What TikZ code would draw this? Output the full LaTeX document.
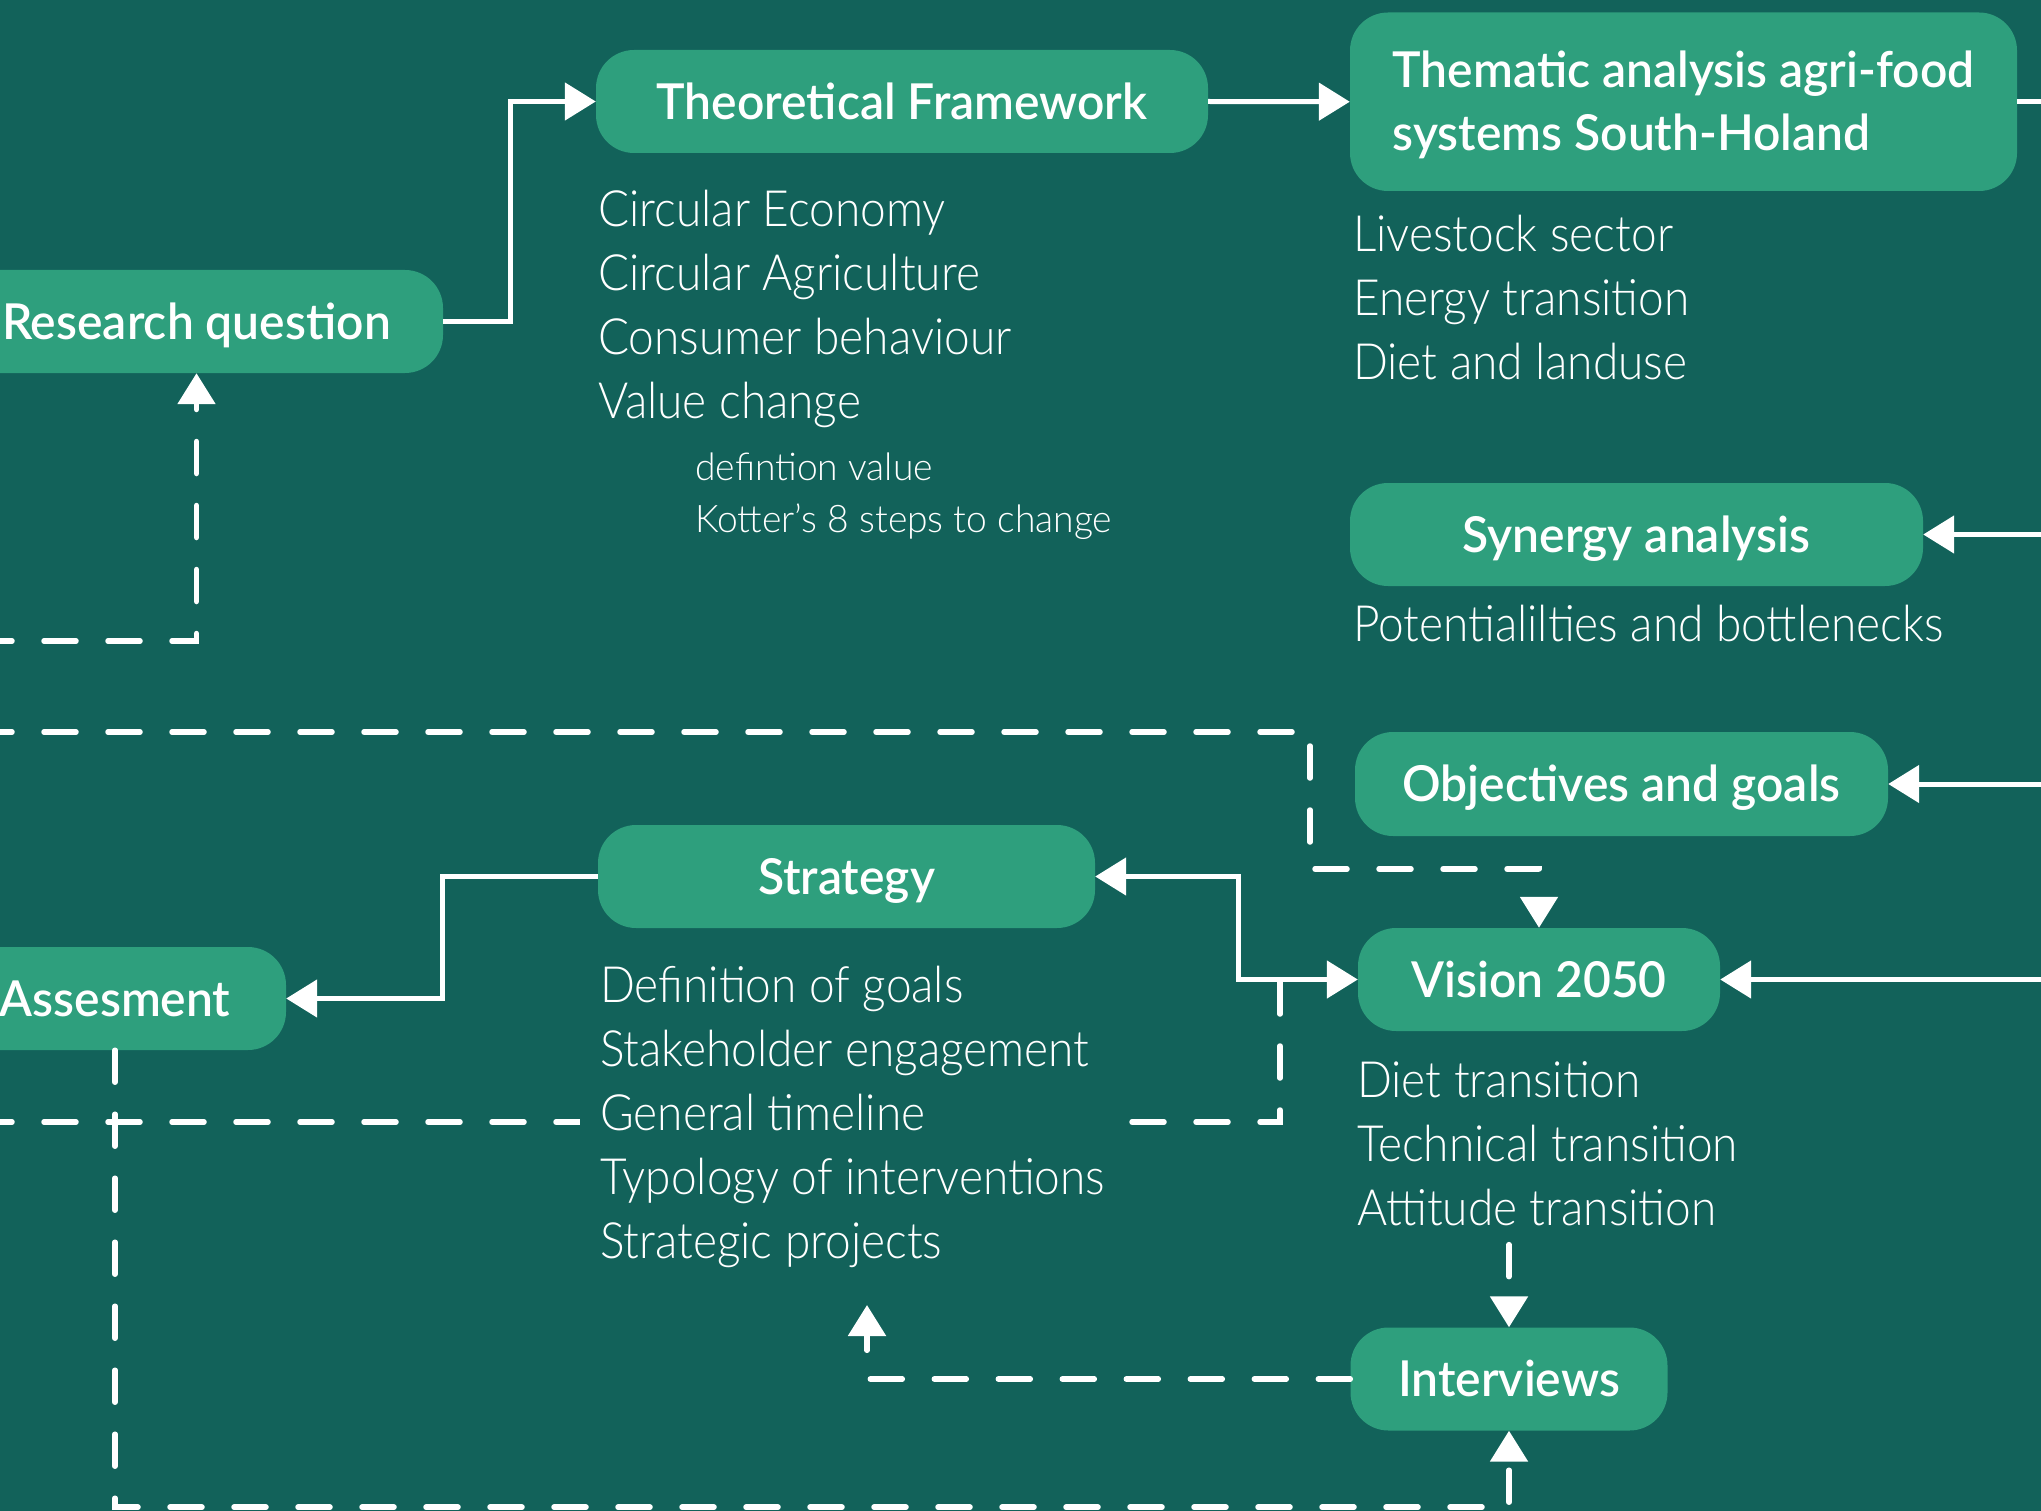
\documentclass[tikz,border=0pt]{standalone}
\usepackage{fontspec}
\usetikzlibrary{arrows.meta}

% Light face for the item lists, heavier face for the stage titles
\IfFontExistsTF{Lato Light}
  {\newfontfamily\itemfont{Lato Light}[FakeStretch=0.92]
   \newfontfamily\subitemfont{Lato Light}[FakeStretch=0.98]}
  {\newfontfamily\itemfont{Lato}[FakeStretch=0.92]
   \newfontfamily\subitemfont{Lato}[FakeStretch=0.98]}
\IfFontExistsTF{Lato Semibold}
  {\newfontfamily\headfont{Lato Semibold}[FakeStretch=0.97]}
  {\newfontfamily\headfontbase{Lato}[FakeStretch=0.97]\newcommand\headfont{\headfontbase\bfseries}}

\definecolor{bgteal}{HTML}{12625A}
\definecolor{boxgreen}{HTML}{2E9F7D}

\tikzset{
  flowtip/.tip={Triangle[length=31pt,width=37pt]},
  stagebox/.style={draw=none, fill=boxgreen, rounded corners=38pt, text=white,
    font=\headfont\fontsize{49.5}{63}\selectfont, inner sep=0pt},
  stage/.style={stagebox, text height=35.5pt, text depth=0pt},
  itemlist/.style={text=white, font=\itemfont\fontsize{50}{64}\selectfont,
    align=left, anchor=north west, inner sep=0pt},
  sublist/.style={itemlist, font=\subitemfont\fontsize{38}{52}\selectfont},
  link/.style={draw=white, line width=5pt},
  dashlink/.style={draw=white, line width=5.5pt, line cap=round, dash pattern=on 32pt off 32pt},
}

\begin{document}
\begin{tikzpicture}[x=1pt, y=-1pt]
\useasboundingbox (0,0) rectangle (2041,1511);
\fill[bgteal] (0,0) rectangle (2041,1511);
\clip (0,0) rectangle (2041,1511);

% loose ends of connectors that leave the sheet
\coordinate (wRQ)  at (-20,641);
\coordinate (wVis) at (-20,732);
\coordinate (wStr) at (-20,1122);
\coordinate (jn)   at (1280,981);
\coordinate (eThem) at (2060,101.75);
\coordinate (eSyn) at (2060,534.5);
\coordinate (eObj) at (2060,784);
\coordinate (eVis) at (2060,979.5);
\coordinate (sIn)  at (867,1305);

% dashed feedback line running behind the strategy list
\draw[dashlink] (wStr) -| (jn);

% stages
\node[stage, minimum width=493pt, minimum height=103pt] (rq) at (196.5,321.5) {Research question};
\node[stage, minimum width=612pt, minimum height=103pt] (tf) at (902,101.5) {Theoretical Framework};
\node[stagebox, align=left, minimum width=667pt, minimum height=178.5pt] (them) at (1683.5,101.75)
  {\rule{0pt}{43pt}Thematic analysis agri-food\\systems South-Holand};
\node[stage, minimum width=573pt, minimum height=103pt] (syn) at (1636.5,534.5) {Synergy analysis};
\node[stage, minimum width=533pt, minimum height=104pt] (obj) at (1621.5,784) {Objectives and goals};
\node[stage, minimum width=497pt, minimum height=103pt] (strat) at (846.5,876.5) {Strategy};
\node[stage, minimum width=362pt, minimum height=103pt] (vis) at (1539,979.5) {Vision 2050};
\node[stage, minimum width=317pt, minimum height=103pt] (intv) at (1509,1379) {Interviews};
\node[stage, minimum width=342pt, minimum height=103pt] (ass) at (115,998.5) {Assesment};

% item lists
\node[itemlist] (tflist) at (598,181.2)
  {\strut Circular Economy\\Circular Agriculture\\Consumer behaviour\\Value change};
\node[sublist] (tfsub) at (695,443.6)
  {\strut defintion value\\Kotter’s 8 steps to change};
\node[itemlist] (themlist) at (1353,206.2)
  {\strut Livestock sector\\Energy transition\\Diet and landuse};
\node[itemlist] (synlist) at (1353,596.2)
  {\strut Potentialilties and bottlenecks};
\node[itemlist, fill=bgteal, inner xsep=20pt] (stratlist) at (580,957.2)
  {\strut Definition of goals\\Stakeholder engagement\\General timeline\\Typology of interventions\\Strategic projects};
\node[itemlist] (vislist) at (1357,1052.2)
  {\strut Diet transition\\Technical transition\\Attitude transition\strut};

% solid connectors
\draw[link,-flowtip] (rq.east) -- ++(67,0) |- (tf.west);
\draw[link,-flowtip] (tf.east) -- (them.west);
\draw[link] (them.east) -- (eThem);
\draw[link,-flowtip] (eSyn) -- (syn.east);
\draw[link,-flowtip] (eObj) -- (obj.east);
\draw[link,-flowtip] (eVis) -- (vis.east);
\draw[link,flowtip-flowtip] (strat.east) -- ++(143,0) |- (vis.west);
\draw[link,-flowtip] (strat.west) -- ++(-155,0) |- (ass.east);

% dashed connectors
\draw[dashlink,-flowtip] (wRQ) -| (rq.south);
\draw[dashlink,-flowtip] (wVis) -| (1310,869) -| (vis.north);
\draw[dashlink,-flowtip] (ass.south) -- ++(0,457) -| (intv.south);
\draw[dashlink,-flowtip] (vislist.south -| intv.north) -- (intv.north);
\draw[dashlink,-flowtip] (intv.west) -| (sIn);
\end{tikzpicture}
\end{document}
